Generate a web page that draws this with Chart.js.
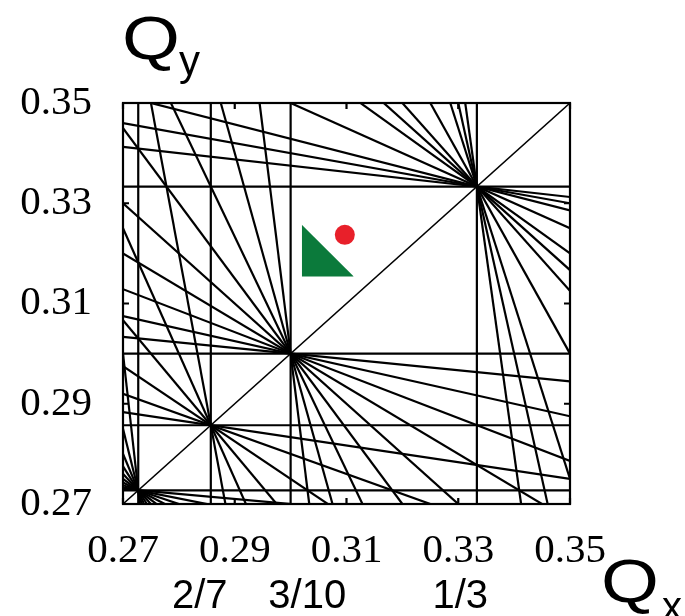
<!DOCTYPE html>
<html>
<head>
<meta charset="utf-8">
<script src="https://cdn.jsdelivr.net/npm/chart.js@4/dist/chart.umd.min.js"></script>
<style>
  html, body { margin: 0; padding: 0; background: #ffffff; }
  canvas { display: block; }
</style>
</head>
<body>
<canvas id="c" width="685" height="616"></canvas>
<script>
// ---- data ----
const axisMin = 0.27;
const axisMax = 0.35;
const xTickVals = [0.27, 0.29, 0.31, 0.33, 0.35];
const xTickLabels = ['0.27', '0.29', '0.31', '0.33', '0.35'];
const yTickVals = [0.27, 0.29, 0.31, 0.33, 0.35];
const yTickLabels = ['0.27', '0.29', '0.31', '0.33', '0.35'];
const fracVals = [2 / 7, 3 / 10, 1 / 3];
const fracLabels = ['2/7', '3/10', '1/3'];

// resonance lines  m*Qx + n*Qy = p
const resM = [3, 7, 10, 11, 0, 0, 0, 0,
  1, 2,
  1, 5, 3,
  1, 2, 3, 4, 5, 6,
  1, 2, 4, 5, 7, 8,
  1, 2, 3, 4, 5, 6, 7, 8, 9,
  1, 2, 3, 4, 5, 6, 7, 8, 9, 10];
const resN = [0, 0, 0, 0, 3, 7, 10, 11,
  2, 1,
  5, 1, 3,
  6, 5, 4, 3, 2, 1,
  8, 7, 5, 4, 2, 1,
  9, 8, 7, 6, 5, 4, 3, 2, 1,
  10, 9, 8, 7, 6, 5, 4, 3, 2, 1];
const resP = [1, 2, 3, 3, 1, 2, 3, 3,
  1, 1,
  2, 2, 2,
  2, 2, 2, 2, 2, 2,
  3, 3, 3, 3, 3, 3,
  3, 3, 3, 3, 3, 3, 3, 3, 3,
  3, 3, 3, 3, 3, 3, 3, 3, 3, 3];
// coupling line Qx - Qy = 0
const diagM = [1];
const diagN = [-1];
const diagP = [0];

// green triangle and red dot
const triX = [0.3020, 0.3113];
const triY = [0.3257, 0.3154];
const dotX = [0.3097];
const dotY = [0.3237];

// ---- build datasets ----
function lineEnds(m, n, p) {
  if (n === 0) {
    return [{ x: p / m, y: axisMin }, { x: p / m, y: axisMax }];
  }
  if (m === 0) {
    return [{ x: axisMin, y: p / n }, { x: axisMax, y: p / n }];
  }
  if (Math.abs(n) >= Math.abs(m)) {
    return [axisMin, axisMax].map(x => ({ x: x, y: (p - m * x) / n }));
  }
  return [axisMin, axisMax].map(y => ({ x: (p - n * y) / m, y: y }));
}

const datasets = [];
resM.forEach((m, i) => {
  datasets.push({
    data: lineEnds(m, resN[i], resP[i]),
    showLine: true, borderColor: '#000', borderWidth: 2.2,
    pointRadius: 0, fill: false
  });
});
diagM.forEach((m, i) => {
  datasets.push({
    data: lineEnds(m, diagN[i], diagP[i]),
    showLine: true, borderColor: '#000', borderWidth: 1.5,
    pointRadius: 0, fill: false
  });
});
datasets.push({
  data: triX.map((x, i) => ({ x: x, y: triY[i] })),
  showLine: true, borderColor: '#0b7a3b', borderWidth: 0,
  backgroundColor: '#0b7a3b', pointRadius: 0,
  fill: { value: triY[1] }
});
datasets.push({
  data: dotX.map((x, i) => ({ x: x, y: dotY[i] })),
  showLine: false, pointRadius: 10, borderWidth: 0,
  backgroundColor: '#e8202a', pointBackgroundColor: '#e8202a'
});

// ---- frame, inward ticks and axis titles ----
function stretchedText(ctx, txt, x, y, font, sx) {
  ctx.save();
  ctx.font = font;
  ctx.translate(x, y);
  ctx.scale(sx, 1);
  ctx.fillText(txt, 0, 0);
  ctx.restore();
}

const framePlugin = {
  id: 'frame',
  afterDatasetsDraw(chart) {
    const ctx = chart.ctx;
    const a = chart.chartArea;
    const xs = chart.scales.x, ys = chart.scales.y;
    ctx.save();
    ctx.strokeStyle = '#000';
    ctx.lineWidth = 2.2;
    ctx.strokeRect(a.left, a.top, a.right - a.left, a.bottom - a.top);
    ctx.beginPath();
    xTickVals.forEach(v => {
      const px = xs.getPixelForValue(v);
      ctx.moveTo(px, a.bottom); ctx.lineTo(px, a.bottom - 6);
      ctx.moveTo(px, a.top); ctx.lineTo(px, a.top + 6);
    });
    yTickVals.forEach(v => {
      const py = ys.getPixelForValue(v);
      ctx.moveTo(a.left, py); ctx.lineTo(a.left + 6, py);
      ctx.moveTo(a.right, py); ctx.lineTo(a.right - 6, py);
    });
    ctx.stroke();
    ctx.restore();
  },
  afterDraw(chart) {
    const ctx = chart.ctx;
    ctx.save();
    ctx.fillStyle = '#000';
    ctx.textAlign = 'left';
    ctx.textBaseline = 'alphabetic';
    stretchedText(ctx, 'Q', 122, 59, '62px "Liberation Sans", Arial, sans-serif', 1.2);
    stretchedText(ctx, 'y', 179, 75, '42px "Liberation Sans", Arial, sans-serif', 1.0);
    stretchedText(ctx, 'Q', 601, 602, '62px "Liberation Sans", Arial, sans-serif', 1.2);
    stretchedText(ctx, 'x', 662, 620, '40px "Liberation Sans", Arial, sans-serif', 1.0);
    ctx.restore();
  }
};

const serif = { family: '"Liberation Serif", "Times New Roman", serif', size: 41 };
const sans = { family: '"Liberation Sans", Arial, sans-serif', size: 40 };
// visual nudges of the fraction labels (spaces only, as in the reference layout)
const fracPadL = ['', '   ', ''];
const fracPadR = ['  ', '', '   '];

new Chart(document.getElementById('c'), {
  type: 'scatter',
  data: { datasets: datasets },
  options: {
    responsive: false,
    animation: false,
    devicePixelRatio: 1,
    layout: { padding: { top: 103, right: 115, bottom: 0, left: 0 } },
    plugins: { legend: { display: false }, tooltip: { enabled: false } },
    scales: {
      x: {
        type: 'linear', position: 'bottom', weight: 0,
        min: axisMin, max: axisMax,
        grid: { display: false, drawTicks: false }, border: { display: false },
        afterBuildTicks: s => { s.ticks = xTickVals.map(v => ({ value: v })); },
        afterFit: s => { s.height = 64; },
        ticks: {
          callback: (v, i) => xTickLabels[i],
          font: serif, color: '#000', padding: 23,
          autoSkip: false, maxRotation: 0
        }
      },
      xf: {
        type: 'linear', position: 'bottom', weight: 1,
        min: axisMin, max: axisMax,
        grid: { display: false, drawTicks: false }, border: { display: false },
        afterBuildTicks: s => { s.ticks = fracVals.map(v => ({ value: v })); },
        afterFit: s => { s.height = 48; },
        ticks: {
          callback: (v, i) => fracPadL[i] + fracLabels[i] + fracPadR[i],
          font: sans, color: '#000', padding: 5,
          autoSkip: false, maxRotation: 0
        }
      },
      y: {
        type: 'linear', position: 'left',
        min: axisMin, max: axisMax,
        grid: { display: false, drawTicks: false }, border: { display: false },
        afterBuildTicks: s => { s.ticks = yTickVals.map(v => ({ value: v })); },
        afterFit: s => { s.width = 123; },
        ticks: {
          callback: (v, i) => yTickLabels[i],
          font: serif, color: '#000', padding: 31
        }
      }
    }
  },
  plugins: [framePlugin]
});
</script>
</body>
</html>
